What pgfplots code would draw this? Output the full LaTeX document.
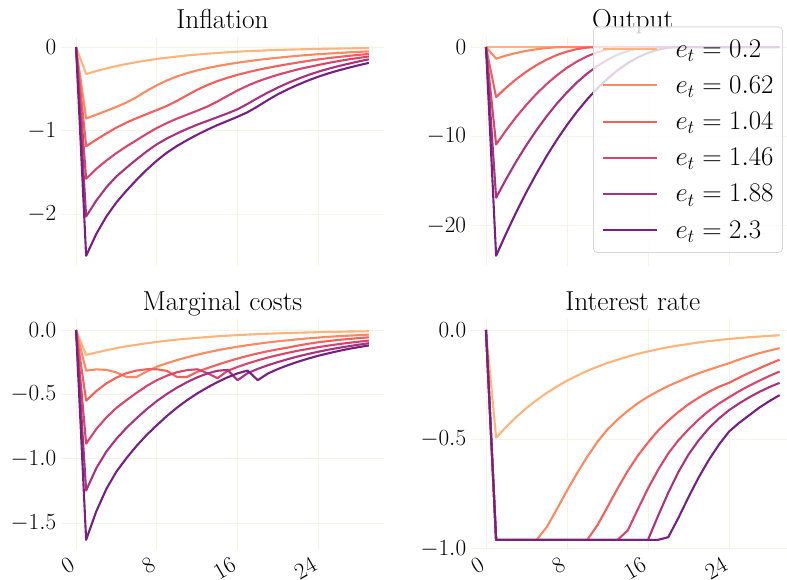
\RequirePackage{fix-cm}
\documentclass[border=0pt]{standalone}
\usepackage{pgfplots}
\usepackage{pgfplotstable}
\pgfplotsset{compat=1.18}

\definecolor{c1}{RGB}{254,180,123}
\definecolor{c2}{RGB}{252,137,97}
\definecolor{c3}{RGB}{241,96,93}
\definecolor{c4}{RGB}{214,70,108}
\definecolor{c5}{RGB}{168,50,125}
\definecolor{c6}{RGB}{118,32,129}
\definecolor{gridc}{RGB}{245,242,230}
\definecolor{legc}{RGB}{215,215,215}

\pgfplotstableread{
t a b c d e f
0 0 0 0 0 0 0
1 -0.324 -0.856 -1.188 -1.578 -2.03 -2.50
2 -0.288 -0.81 -1.11 -1.46 -1.84 -2.24
3 -0.257 -0.765 -1.035 -1.36 -1.68 -2.03
4 -0.228 -0.717 -0.965 -1.27 -1.55 -1.86
5 -0.203 -0.664 -0.905 -1.19 -1.445 -1.72
6 -0.181 -0.6 -0.852 -1.115 -1.345 -1.59
7 -0.161 -0.525 -0.803 -1.04 -1.25 -1.47
8 -0.143 -0.458 -0.755 -0.97 -1.165 -1.36
9 -0.128 -0.4 -0.705 -0.91 -1.095 -1.265
10 -0.114 -0.352 -0.645 -0.857 -1.035 -1.185
11 -0.101 -0.313 -0.577 -0.81 -0.98 -1.115
12 -0.090 -0.28 -0.512 -0.763 -0.93 -1.05
13 -0.080 -0.252 -0.456 -0.713 -0.885 -0.99
14 -0.071 -0.228 -0.408 -0.653 -0.84 -0.935
15 -0.063 -0.207 -0.368 -0.585 -0.795 -0.885
16 -0.056 -0.188 -0.333 -0.52 -0.745 -0.835
17 -0.050 -0.171 -0.302 -0.462 -0.68 -0.78
18 -0.045 -0.155 -0.274 -0.412 -0.61 -0.71
19 -0.040 -0.141 -0.249 -0.37 -0.545 -0.635
20 -0.035 -0.128 -0.226 -0.332 -0.485 -0.565
21 -0.031 -0.116 -0.205 -0.298 -0.43 -0.505
22 -0.028 -0.105 -0.185 -0.267 -0.38 -0.45
23 -0.025 -0.095 -0.166 -0.24 -0.335 -0.4
24 -0.022 -0.086 -0.148 -0.215 -0.295 -0.355
25 -0.020 -0.078 -0.133 -0.19 -0.26 -0.315
26 -0.018 -0.071 -0.119 -0.168 -0.228 -0.28
27 -0.016 -0.064 -0.106 -0.148 -0.2 -0.248
28 -0.014 -0.058 -0.094 -0.13 -0.172 -0.218
29 -0.012 -0.052 -0.083 -0.113 -0.147 -0.19
}\infl

\pgfplotstableread{
t a b c d e f
0 0 0 0 0 0 0
1 0 -1.3 -5.6 -10.9 -16.85 -23.35
2 0 -0.955 -4.536 -9.29 -14.75 -20.83
3 0 -0.663 -3.584 -7.80 -12.78 -18.45
4 0 -0.424 -2.744 -6.45 -10.96 -16.21
5 0 -0.239 -2.016 -5.22 -9.28 -14.13
6 0 -0.106 -1.4 -4.13 -7.73 -12.18
7 0 -0.027 -0.896 -3.16 -6.33 -10.38
8 0 0 -0.504 -2.32 -5.07 -8.72
9 0 0 -0.224 -1.61 -3.94 -7.21
10 0 0 -0.056 -1.03 -2.96 -5.84
11 0 0 0 -0.58 -2.12 -4.61
12 0 0 0 -0.26 -1.42 -3.53
13 0 0 0 -0.064 -0.86 -2.59
14 0 0 0 0 -0.44 -1.80
15 0 0 0 0 -0.158 -1.15
16 0 0 0 0 -0.018 -0.65
17 0 0 0 0 0 -0.29
18 0 0 0 0 0 -0.072
19 0 0 0 0 0 0
20 0 0 0 0 0 0
21 0 0 0 0 0 0
22 0 0 0 0 0 0
23 0 0 0 0 0 0
24 0 0 0 0 0 0
25 0 0 0 0 0 0
26 0 0 0 0 0 0
27 0 0 0 0 0 0
28 0 0 0 0 0 0
29 0 0 0 0 0 0
}\outp

\pgfplotstableread{
t a b c d e f
0 0 0 0 0 0 0
1 -0.194 -0.316 -0.549 -0.883 -1.247 -1.63
2 -0.175 -0.306 -0.475 -0.77 -1.075 -1.41
3 -0.157 -0.31 -0.415 -0.68 -0.945 -1.235
4 -0.141 -0.33 -0.37 -0.605 -0.845 -1.1
5 -0.127 -0.365 -0.335 -0.545 -0.76 -0.995
6 -0.115 -0.365 -0.315 -0.488 -0.685 -0.9
7 -0.103 -0.322 -0.305 -0.435 -0.615 -0.815
8 -0.093 -0.285 -0.305 -0.39 -0.552 -0.74
9 -0.083 -0.258 -0.318 -0.355 -0.497 -0.668
10 -0.075 -0.234 -0.365 -0.328 -0.448 -0.603
11 -0.068 -0.212 -0.365 -0.312 -0.405 -0.545
12 -0.061 -0.192 -0.325 -0.305 -0.368 -0.493
13 -0.055 -0.174 -0.297 -0.335 -0.338 -0.447
14 -0.049 -0.158 -0.27 -0.375 -0.317 -0.405
15 -0.044 -0.143 -0.245 -0.318 -0.31 -0.368
16 -0.040 -0.13 -0.222 -0.287 -0.39 -0.337
17 -0.036 -0.118 -0.201 -0.26 -0.335 -0.315
18 -0.032 -0.107 -0.182 -0.236 -0.302 -0.39
19 -0.029 -0.097 -0.165 -0.214 -0.274 -0.338
20 -0.026 -0.088 -0.15 -0.195 -0.249 -0.303
21 -0.024 -0.08 -0.136 -0.177 -0.226 -0.273
22 -0.021 -0.072 -0.121 -0.161 -0.205 -0.246
23 -0.019 -0.065 -0.107 -0.147 -0.186 -0.222
24 -0.017 -0.059 -0.095 -0.133 -0.169 -0.2
25 -0.015 -0.053 -0.086 -0.121 -0.153 -0.181
26 -0.014 -0.048 -0.077 -0.11 -0.139 -0.163
27 -0.012 -0.044 -0.07 -0.1 -0.126 -0.147
28 -0.011 -0.04 -0.063 -0.091 -0.114 -0.133
29 -0.010 -0.036 -0.057 -0.082 -0.103 -0.12
}\mcost

\pgfplotstableread{
t a b c d e f
0 0 0 0 0 0 0
1 -0.493 -0.96 -0.96 -0.96 -0.96 -0.96
2 -0.443 -0.96 -0.96 -0.96 -0.96 -0.96
3 -0.398 -0.96 -0.96 -0.96 -0.96 -0.96
4 -0.357 -0.96 -0.96 -0.96 -0.96 -0.96
5 -0.321 -0.96 -0.96 -0.96 -0.96 -0.96
6 -0.288 -0.902 -0.96 -0.96 -0.96 -0.96
7 -0.259 -0.82 -0.96 -0.96 -0.96 -0.96
8 -0.232 -0.735 -0.96 -0.96 -0.96 -0.96
9 -0.209 -0.655 -0.96 -0.96 -0.96 -0.96
10 -0.187 -0.58 -0.96 -0.96 -0.96 -0.96
11 -0.168 -0.512 -0.894 -0.96 -0.96 -0.96
12 -0.151 -0.455 -0.81 -0.96 -0.96 -0.96
13 -0.136 -0.41 -0.725 -0.96 -0.96 -0.96
14 -0.122 -0.37 -0.645 -0.917 -0.96 -0.96
15 -0.109 -0.335 -0.575 -0.82 -0.96 -0.96
16 -0.098 -0.305 -0.515 -0.725 -0.96 -0.96
17 -0.088 -0.28 -0.46 -0.64 -0.85 -0.96
18 -0.079 -0.256 -0.415 -0.565 -0.745 -0.948
19 -0.071 -0.236 -0.375 -0.505 -0.65 -0.86
20 -0.064 -0.216 -0.34 -0.455 -0.57 -0.765
21 -0.057 -0.198 -0.31 -0.41 -0.505 -0.675
22 -0.051 -0.182 -0.283 -0.37 -0.45 -0.595
23 -0.046 -0.167 -0.26 -0.337 -0.405 -0.525
24 -0.041 -0.152 -0.242 -0.308 -0.367 -0.465
25 -0.037 -0.135 -0.218 -0.28 -0.336 -0.425
26 -0.033 -0.12 -0.196 -0.255 -0.308 -0.39
27 -0.030 -0.106 -0.175 -0.232 -0.283 -0.355
28 -0.027 -0.094 -0.155 -0.21 -0.261 -0.325
29 -0.024 -0.083 -0.136 -0.19 -0.242 -0.298
}\irate

\pgfplotsset{
  every axis title/.style={at={(0.5,1)}, anchor=south, inner sep=0pt,
    text depth=0pt, yshift=8.3bp, font=\fontsize{27.5}{32}\selectfont},
  panel/.style={
    scale only axis, width=322.1bp,
    xmin=-1.45, xmax=30.45, xtick={0,8,16,24},
    grid=major, grid style={draw=gridc, line width=0.9bp},
    axis line style={draw=none}, major tick length=0pt,
    tick label style={font=\fontsize{23.2}{27}\selectfont},
    yticklabel style={inner sep=5bp},
    cycle list={{color=c1},{color=c2},{color=c3},{color=c4},{color=c5},{color=c6}},
    every axis plot/.append style={line width=2.1bp, line join=round, no markers},
  },
  toprow/.style={panel, height=229.6bp, xticklabels={}},
  botrow/.style={panel, height=230.8bp,
    xticklabel style={rotate=30, anchor=north east, inner sep=1.5bp, xshift=-8bp}},
}

\begin{document}
\begin{tikzpicture}
\begin{axis}[toprow, at={(61.4bp,313.8bp)}, anchor=south west,
  title={Inflation}, ymin=-2.625, ymax=0.125, ytick={-2,-1,0}]
\addplot table[x=t,y=a]{\infl};
\addplot table[x=t,y=b]{\infl};
\addplot table[x=t,y=c]{\infl};
\addplot table[x=t,y=d]{\infl};
\addplot table[x=t,y=e]{\infl};
\addplot table[x=t,y=f]{\infl};
\end{axis}

\begin{axis}[toprow, width=323bp, at={(471.3bp,313.8bp)}, anchor=south west,
  title={Output}, ymin=-24.52, ymax=1.17, ytick={-20,-10,0},
  legend style={at={(axis description cs:0.3768,1.044)}, anchor=north west,
    draw=legc, line width=0.8bp, rounded corners=4bp,
    fill=white, fill opacity=0.8, draw opacity=1, text opacity=1,
    font=\fontsize{27}{31}\selectfont,
    inner xsep=9bp, inner ysep=10.3bp, row sep=12.2bp,
    cells={anchor=west},
    nodes={inner sep=0pt, text height=20bp, text depth=4bp},
    /tikz/every odd column/.append style={column sep=17bp}},
  legend image code/.code={\draw[#1, line width=2.1bp] (0bp,0bp) -- (54bp,0bp);}]
\addplot table[x=t,y=a]{\outp};
\addplot table[x=t,y=b]{\outp};
\addplot table[x=t,y=c]{\outp};
\addplot table[x=t,y=d]{\outp};
\addplot table[x=t,y=e]{\outp};
\addplot table[x=t,y=f]{\outp};
\legend{$e_t = 0.2$, $e_t = 0.62$, $e_t = 1.04$, $e_t = 1.46$, $e_t = 1.88$, $e_t = 2.3$}
\end{axis}

\begin{axis}[botrow, at={(61.4bp,29.7bp)}, anchor=south west,
  title={Marginal costs}, ymin=-1.7115, ymax=0.0815, ytick={-1.5,-1,-0.5,0},
  yticklabel style={/pgf/number format/.cd, fixed, fixed zerofill, precision=1}]
\addplot table[x=t,y=a]{\mcost};
\addplot table[x=t,y=b]{\mcost};
\addplot table[x=t,y=c]{\mcost};
\addplot table[x=t,y=d]{\mcost};
\addplot table[x=t,y=e]{\mcost};
\addplot table[x=t,y=f]{\mcost};
\end{axis}

\begin{axis}[botrow, width=323bp, at={(471.3bp,29.7bp)}, anchor=south west,
  title={Interest rate}, ymin=-1.008, ymax=0.048, ytick={-1,-0.5,0},
  yticklabel style={/pgf/number format/.cd, fixed, fixed zerofill, precision=1}]
\addplot table[x=t,y=a]{\irate};
\addplot table[x=t,y=b]{\irate};
\addplot table[x=t,y=c]{\irate};
\addplot table[x=t,y=d]{\irate};
\addplot table[x=t,y=e]{\irate};
\addplot table[x=t,y=f]{\irate};
\end{axis}
\pgfresetboundingbox
\useasboundingbox (0,0) rectangle (787bp,580bp);
\end{tikzpicture}
\end{document}
